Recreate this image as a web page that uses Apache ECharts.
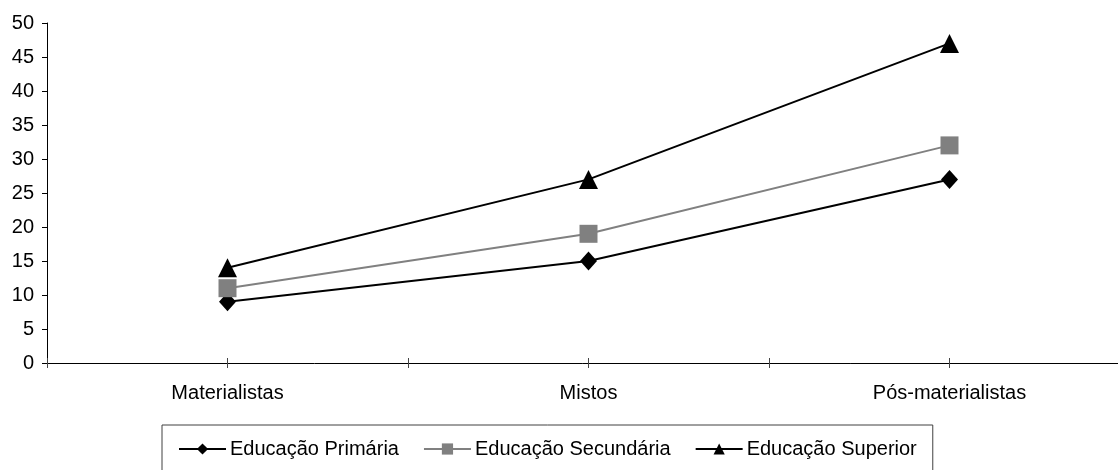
<!DOCTYPE html>
<html>
<head>
<meta charset="utf-8">
<script src="https://cdn.jsdelivr.net/npm/echarts@6/dist/echarts.min.js"></script>
<style>
html,body{margin:0;padding:0;background:#fff;}
#chart{width:1118px;height:470px;}
</style>
</head>
<body>
<div id="chart"></div>
<script>
const categories = ['Materialistas', 'Mistos', 'Pós-materialistas'];
const primaria = [9, 15, 27];
const secundaria = [11, 19, 32];
const superior = [14, 27, 47];
const seriesNames = ['Educação Primária', 'Educação Secundária', 'Educação Superior'];
const yMin = 0, yMax = 50, yInterval = 5;

const FONT = '"Liberation Sans", Arial, sans-serif';
const chart = echarts.init(document.getElementById('chart'), null, {renderer: 'canvas'});

const tickSlots = ['', '', '', '', '', ''];

chart.setOption({
  animation: false,
  backgroundColor: '#ffffff',
  textStyle: {fontFamily: FONT},
  grid: {left: 47, width: 1083, top: 23, bottom: 107, containLabel: false, outerBoundsMode: 'none'},
  xAxis: [
    {
      type: 'category', data: categories, boundaryGap: true,
      axisLine: {show: true, lineStyle: {color: '#000', width: 1}},
      axisTick: {show: false},
      axisLabel: {color: '#000', fontSize: 20, fontFamily: FONT, margin: 20}
    },
    {
      type: 'category', data: tickSlots, boundaryGap: true, position: 'bottom',
      axisLine: {show: false},
      axisTick: {show: true, inside: false, length: 5, lineStyle: {color: '#444', width: 1}},
      axisLabel: {show: false}
    },
    {
      type: 'category', data: tickSlots, boundaryGap: true, position: 'bottom',
      axisLine: {show: false},
      axisTick: {show: true, inside: true, length: 5, lineStyle: {color: '#444', width: 1}},
      axisLabel: {show: false}
    }
  ],
  yAxis: {
    type: 'value', min: yMin, max: yMax, interval: yInterval,
    axisLine: {show: true, lineStyle: {color: '#000', width: 1}},
    axisTick: {show: true, inside: false, length: 5, lineStyle: {color: '#000'}},
    axisLabel: {color: '#000', fontSize: 20, fontFamily: FONT, margin: 13},
    splitLine: {show: false}
  },
  legend: {
    data: seriesNames,
    left: 162, top: 425,
    orient: 'horizontal',
    padding: [14, 16, 30, 16],
    itemWidth: 47, itemHeight: 14, itemGap: 24,
    borderColor: '#404040', borderWidth: 1,
    textStyle: {color: '#000', fontSize: 20, fontFamily: FONT, padding: [0, 0, 0, -1]}
  },
  series: [
    {
      name: seriesNames[0], type: 'line', xAxisIndex: 0, data: primaria,
      symbol: 'diamond', symbolSize: [17, 19],
      lineStyle: {color: '#000', width: 2},
      itemStyle: {color: '#000'}
    },
    {
      name: seriesNames[1], type: 'line', xAxisIndex: 0, data: secundaria,
      symbol: 'rect', symbolSize: 18,
      lineStyle: {color: '#808080', width: 2},
      itemStyle: {color: '#808080'}
    },
    {
      name: seriesNames[2], type: 'line', xAxisIndex: 0, data: superior,
      symbol: 'triangle', symbolSize: 19,
      lineStyle: {color: '#000', width: 2},
      itemStyle: {color: '#000'}
    }
  ]
});
</script>
</body>
</html>
